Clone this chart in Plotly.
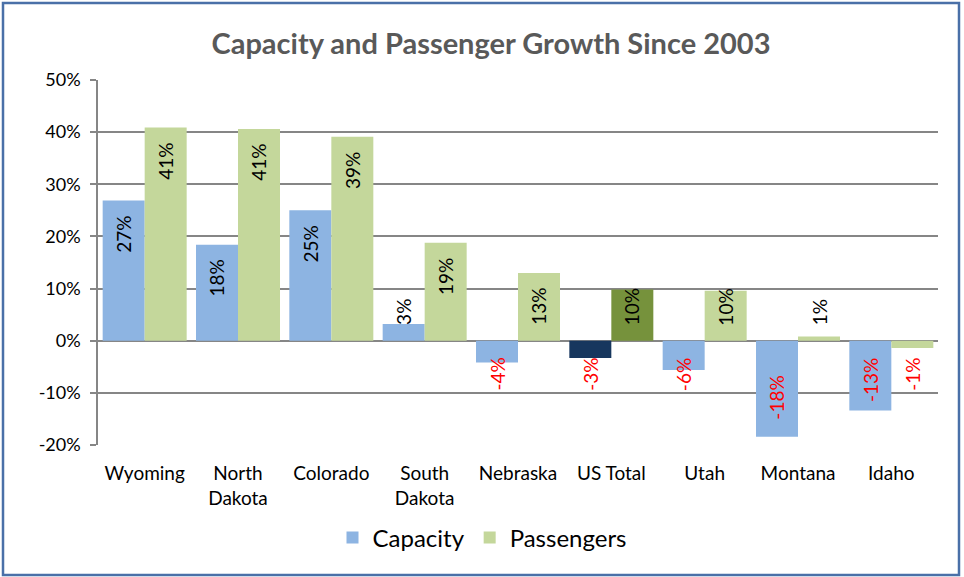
import plotly.graph_objects as go

# Growth in seat capacity and passengers since 2003, by state (percent)
states = ["Wyoming", "North<br>Dakota", "Colorado", "South<br>Dakota", "Nebraska",
          "US Total", "Utah", "Montana", "Idaho"]
capacity = [26.9, 18.4, 25.0, 3.2, -4.2, -3.3, -5.6, -18.4, -13.4]
passengers = [40.9, 40.6, 39.1, 18.8, 13.0, 9.8, 9.6, 0.8, -1.4]
y_ticks = [-20, -10, 0, 10, 20, 30, 40, 50]
y_tick_text = ["-20%", "-10%", "0%", "10%", "20%", "30%", "40%", "50%"]

# colours: the US Total pair is highlighted in darker shades
cap_colors = ["#17375E" if s == "US Total" else "#8DB4E2" for s in states]
pas_colors = ["#76923C" if s == "US Total" else "#C4D79B" for s in states]

FONT = "Lato"
W, H = 964, 577
ML, MR, MT, MB = 98, 26, 80, 132
Y_MIN, Y_MAX = -20, 50
BARGAP = 0.1

fig = go.Figure()
fig.add_trace(go.Bar(name="Capacity", x=states, y=capacity,
                     marker=dict(color=cap_colors, line=dict(width=0))))
fig.add_trace(go.Bar(name="Passengers", x=states, y=passengers,
                     marker=dict(color=pas_colors, line=dict(width=0))))

# rotated value labels, set just inside the bar end and kept clear of the zero line
plot_h = H - MT - MB
pw = W - ML - MR
ppu = plot_h / (Y_MAX - Y_MIN)          # pixels per percentage point
half_w = (1 - BARGAP) / 4               # offset of each bar from its category centre
annotations = []
for series, sign in ((capacity, -1), (passengers, 1)):
    for i, v in enumerate(series):
        txt = f"{v:.0f}%"
        L = 10.5 * len(txt) + 4
        d = (16 + L / 2) / ppu
        yc = max(v - d, d) if v >= 0 else min(v + d, -d)
        annotations.append(dict(
            x=i + sign * half_w, y=yc, xref="x", yref="y",
            text=txt, textangle=-90, showarrow=False,
            xanchor="center", yanchor="middle",
            font=dict(family=FONT, size=19, color="#000000" if v >= 0 else "#FF0000"),
        ))

# outer chart frame
fig.add_shape(type="rect", xref="paper", yref="paper",
              x0=(3 - ML) / pw, x1=(W - 5 - ML) / pw,
              y0=(H - MB - 575) / plot_h, y1=(H - MB - 3) / plot_h,
              line=dict(color="#4A70A8", width=2.5), fillcolor="rgba(0,0,0,0)", layer="below")

zero_pos = (0 - Y_MIN) / (Y_MAX - Y_MIN)

fig.update_layout(
    width=W, height=H,
    margin=dict(l=ML, r=MR, t=MT, b=MB, autoexpand=False),
    paper_bgcolor="white", plot_bgcolor="white",
    barmode="group", bargap=BARGAP, bargroupgap=0,
    title=dict(text="<b>Capacity and Passenger Growth Since 2003</b>",
               x=(491 - ML) / pw, xref="paper", xanchor="center",
               y=1 - 44 / H, yref="container", yanchor="middle",
               font=dict(family=FONT, size=29, color="#595959")),
    font=dict(family=FONT, color="#000000"),
    xaxis=dict(type="category", showgrid=False, showline=False, ticks="",
               tickfont=dict(family=FONT, size=19, color="#000000"), tickangle=0,
               ticklabelstandoff=15,
               range=[-0.5, len(states) - 0.5], domain=[0, 1]),
    # category axis drawn along the zero line, with ticks between categories
    xaxis2=dict(overlaying="x", anchor="free", position=zero_pos, domain=[0, 1],
                range=[-0.5, len(states) - 0.5], tick0=-0.5, dtick=1,
                ticks="outside", ticklen=6, tickwidth=1.5, tickcolor="#868686",
                showline=True, linecolor="#868686", linewidth=1.5,
                showticklabels=False, showgrid=False, zeroline=False),
    yaxis=dict(range=[Y_MIN, Y_MAX], tickvals=y_ticks, ticktext=y_tick_text,
               showgrid=True, gridcolor="#868686", gridwidth=1.5,
               zeroline=False, showline=True, linecolor="#868686", linewidth=1.5,
               ticks="outside", ticklen=6, tickwidth=1.5, tickcolor="#868686",
               tickfont=dict(family=FONT, size=18, color="#000000"), ticklabelstandoff=6),
    legend=dict(orientation="h", x=(482 - ML) / pw, xanchor="center",
                y=(H - MB - 538) / plot_h, yanchor="middle",
                font=dict(family=FONT, size=24, color="#000000"),
                traceorder="normal"),
    annotations=annotations,
)

fig.write_html("out.html")
